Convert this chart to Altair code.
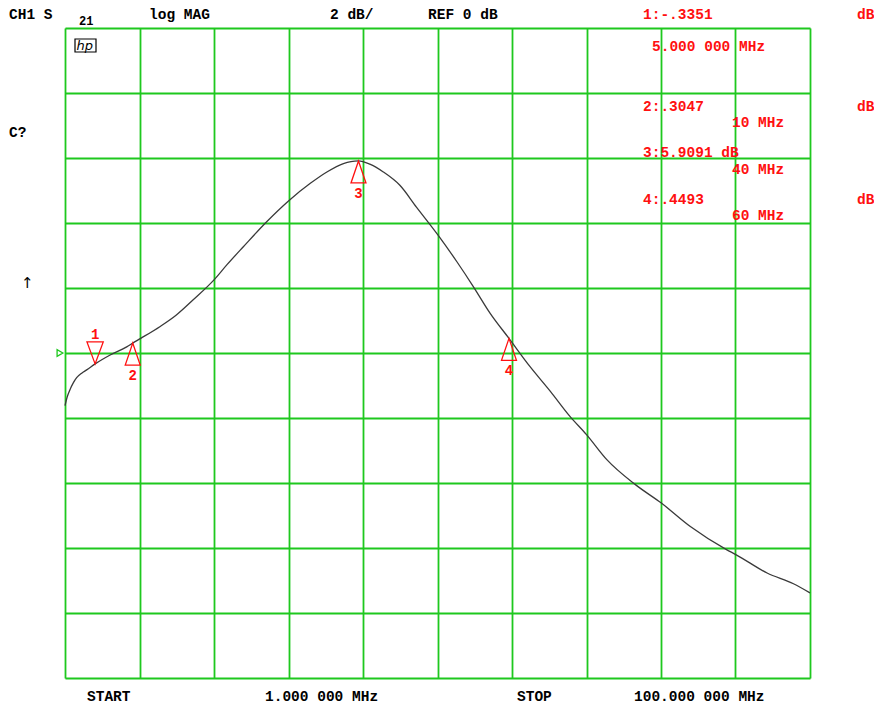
import altair as alt
import pandas as pd

# ---------------- data ----------------
freq_mhz = [1.0, 1.31, 1.66, 2.1, 2.55, 3.22, 3.88, 5.0, 7.0, 9.2, 10.0, 11.06,
            13.6, 15.8, 18.0, 20.8, 22.5, 24.7, 27.8, 30.7, 33.6, 35.8, 38.0, 39.0,
            40.0, 41.5, 43.3, 45.5, 47.7, 50.6, 53.1, 55.3, 57.5, 60.0, 62.8, 65.5,
            68.1, 70.3, 73.0, 76.8, 80.2, 84.1, 88.9, 90.2, 94.3, 97.8, 100.0]
s21_db = [-1.62, -1.34, -1.13, -0.92, -0.76, -0.62, -0.52, -0.335, -0.06, 0.19, 0.305, 0.45,
          0.81, 1.17, 1.63, 2.25, 2.71, 3.27, 4.04, 4.68, 5.22, 5.57, 5.83, 5.89,
          5.91, 5.81, 5.57, 5.16, 4.49, 3.62, 2.80, 2.03, 1.22, 0.449, -0.42, -1.18,
          -1.95, -2.51, -3.28, -4.05, -4.61, -5.34, -6.05, -6.21, -6.77, -7.10, -7.38]

marker_ids = ["1", "2", "3", "4"]
marker_freq = [5.0, 10.0, 40.0, 60.0]
marker_db = [-0.3351, 0.3047, 5.9091, 0.4493]
marker_dir = ["down", "up", "up", "up"]
marker_value_text = ["1:-.3351", "2:.3047", "3:5.9091 dB", "4:.4493"]
marker_unit_text = ["dB", "dB", "", "dB"]
marker_freq_text = ["5.000 000 MHz", "10 MHz", "40 MHz", "60 MHz"]

start_mhz, stop_mhz = 1.0, 100.0
ref_db, scale_db = 0.0, 2.0
header_text = ["CH1 S", "log MAG", "2 dB/", "REF 0 dB"]
footer_text = ["START", "1.000 000 MHz", "STOP", "100.000 000 MHz"]

# ---------------- styling / layout ----------------
GREEN = "#1ec81e"
RED = "#ff1010"
TRACE = "#3a3a3a"
FONT = "Liberation Mono"
X0, Y0 = 65, 28          # page position of the plot area
W, H = 745, 650

x_grid = [start_mhz + (stop_mhz - start_mhz) * k / 10 for k in range(11)]
y_grid = [ref_db - 5 * scale_db + scale_db * k for k in range(11)]

trace_df = pd.DataFrame({"freq": freq_mhz, "db": s21_db})
mk_df = pd.DataFrame({"freq": marker_freq, "db": marker_db, "id": marker_ids, "dir": marker_dir})

x_enc = alt.X("freq:Q", scale=alt.Scale(domain=[start_mhz, stop_mhz], nice=False, zero=False),
              axis=alt.Axis(values=x_grid, grid=True, labels=False, ticks=False, domain=False,
                            title=None, gridColor=GREEN, gridWidth=1.8, gridOpacity=1))
y_enc = alt.Y("db:Q", scale=alt.Scale(domain=[ref_db - 5 * scale_db, ref_db + 5 * scale_db],
                                      nice=False, zero=False),
              axis=alt.Axis(values=y_grid, grid=True, labels=False, ticks=False, domain=False,
                            title=None, gridColor=GREEN, gridWidth=1.8, gridOpacity=1))

trace = alt.Chart(trace_df).mark_line(color=TRACE, strokeWidth=1.3, interpolate="monotone").encode(
    x=x_enc, y=y_enc)

UP_SHAPE = "M0,0L-0.68,2L0.68,2Z"
DOWN_SHAPE = "M0,0L-0.74,-2L0.74,-2Z"

mk_up = alt.Chart(mk_df).transform_filter("datum.dir == 'up'").mark_point(
    shape=UP_SHAPE, size=484, filled=False, stroke=RED, strokeWidth=1.3, opacity=1).encode(
    x="freq:Q", y="db:Q")
mk_down = alt.Chart(mk_df).transform_filter("datum.dir == 'down'").mark_point(
    shape=DOWN_SHAPE, size=484, filled=False, stroke=RED, strokeWidth=1.3, opacity=1).encode(
    x="freq:Q", y="db:Q")
mk_up_lbl = alt.Chart(mk_df).transform_filter("datum.dir == 'up'").mark_text(
    dy=33, color=RED, font=FONT, fontSize=14, fontWeight="bold", baseline="middle").encode(
    x="freq:Q", y="db:Q", text="id:N")
mk_down_lbl = alt.Chart(mk_df).transform_filter("datum.dir == 'down'").mark_text(
    dy=-29, color=RED, font=FONT, fontSize=14, fontWeight="bold", baseline="middle").encode(
    x="freq:Q", y="db:Q", text="id:N")

ref_mark = alt.Chart(pd.DataFrame({"db": [ref_db]})).mark_point(
    shape="triangle-right", size=45, filled=False, stroke=GREEN, strokeWidth=1.3, opacity=1).encode(
    x=alt.value(-5), y="db:Q")


def label(text, px, py, color="black", size=14.5, weight="bold", font=FONT, style="normal"):
    return alt.Chart(pd.DataFrame({"t": [text]})).mark_text(
        align="left", baseline="middle", font=font, fontSize=size, fontWeight=weight,
        fontStyle=style, color=color).encode(
        x=alt.value(px - X0), y=alt.value(py - Y0), text="t:N")


layers = [trace, mk_up, mk_down, mk_up_lbl, mk_down_lbl, ref_mark]

# header
for t, px in zip(header_text, [9, 149, 330, 428]):
    layers.append(label(t, px, 15))
layers.append(label("21", 79, 21, size=12))
layers.append(label("C?", 9, 133))
layers.append(label("\u2191", 21, 283, font="DejaVu Sans", weight="normal", size=15))

# hp logo
layers.append(alt.Chart(pd.DataFrame({"a": [0]})).mark_rect(
    fill="white", stroke="black", strokeWidth=1.2).encode(
    x=alt.value(75 - X0), x2=alt.value(96 - X0), y=alt.value(39 - Y0), y2=alt.value(52 - Y0)))
layers.append(label("hp", 76.5, 46, size=13, weight="normal", font="DejaVu Sans", style="italic"))

# marker readouts
val_y = [15, 107, 153, 200]
freq_pos = [(652, 47), (732, 123), (732, 170), (732, 216)]
for vt, ut, ft, vy, (fx, fy) in zip(marker_value_text, marker_unit_text, marker_freq_text, val_y, freq_pos):
    layers.append(label(vt, 643, vy, color=RED))
    if ut:
        layers.append(label(ut, 857, vy, color=RED))
    layers.append(label(ft, fx, fy, color=RED))

# footer
for t, px in zip(footer_text, [87, 265, 517, 634]):
    layers.append(label(t, px, 697, size=14.5))

chart = alt.layer(*layers).properties(
    width=W, height=H,
    autosize=alt.AutoSizeParams(type="none"),
    padding={"left": X0 - 8, "top": Y0 - 8, "right": 64, "bottom": 27},
).configure_view(stroke=GREEN, strokeWidth=1.8).configure(background="white")

chart.save("out.html", embed_options={"renderer": "svg", "actions": False})
